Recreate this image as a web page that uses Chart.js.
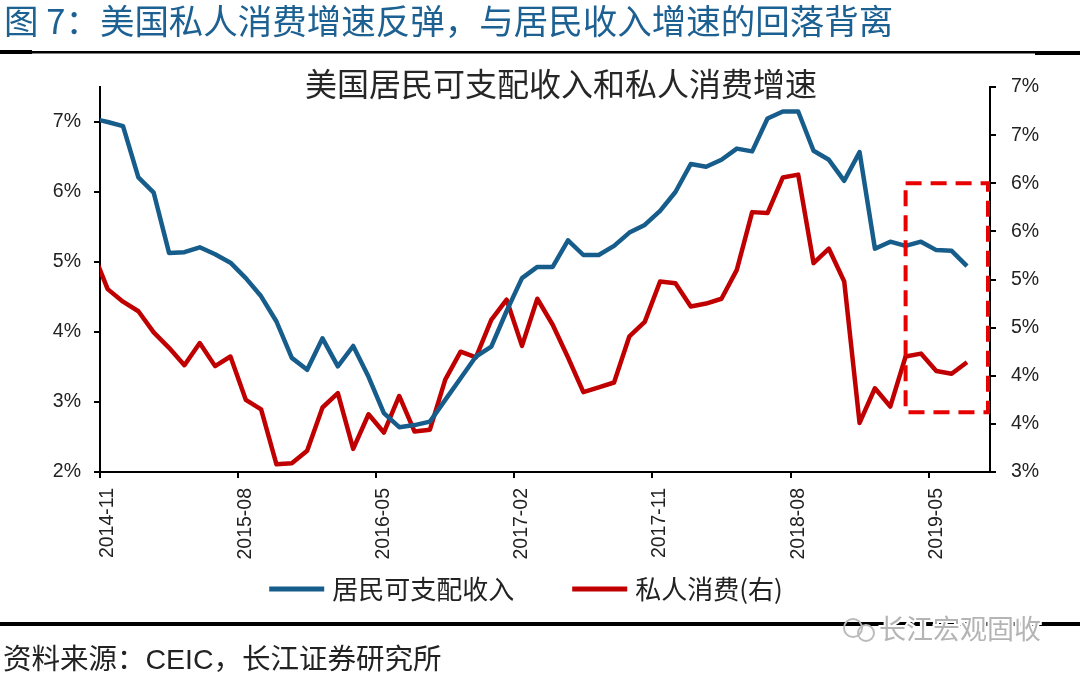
<!DOCTYPE html>
<html>
<head>
<meta charset="utf-8">
<script src="https://cdn.jsdelivr.net/npm/chart.js@4.4.0/dist/chart.umd.min.js"></script>
<style>
  html, body { margin: 0; padding: 0; background: #fff; }
  #wrap { position: relative; width: 1080px; height: 676px; }
</style>
</head>
<body>
<div id="wrap"><canvas id="chart" width="1080" height="676"></canvas></div>
<script>
// texts
var reportTitle = '图 7：美国私人消费增速反弹，与居民收入增速的回落背离';
var chartTitle = '美国居民可支配收入和私人消费增速';
var sourceText = '资料来源：CEIC，长江证券研究所';
var watermark = '长江宏观固收';

// months 2014-10 .. 2019-08; 2014-10 sits just left of the axis and gets clipped
var months = [];
for (var k = 2014 * 12 + 9; k <= 2019 * 12 + 7; k++) {
  var mm = k % 12 + 1;
  months.push(Math.floor(k / 12) + '-' + (mm < 10 ? '0' : '') + mm);
}
var xTickLabels = ['2014-11', '2015-08', '2016-05', '2017-02', '2017-11', '2018-08', '2019-05'];

var seriesNames = ['居民可支配收入', '私人消费(右)'];

// disposable income yoy, % (left axis), 2014-10 .. 2019-07
var income = [
  7.05, 7.00, 6.94, 6.21, 5.99, 5.13, 5.14, 5.21, 5.11, 4.99,
  4.77, 4.51, 4.15, 3.63, 3.46, 3.91, 3.51, 3.80, 3.36, 2.84,
  2.64, 2.67, 2.72, 3.03, 3.34, 3.65, 3.79, 4.30, 4.77, 4.93,
  4.93, 5.31, 5.10, 5.10, 5.23, 5.42, 5.53, 5.73, 6.00, 6.40,
  6.36, 6.46, 6.62, 6.58, 7.05, 7.15, 7.15, 6.59, 6.46, 6.16,
  6.57, 5.19, 5.29, 5.23, 5.29, 5.17, 5.16, 4.94
];

// private consumption yoy, % (right axis), 2014-10 .. 2019-07
var consumption = [
  5.30, 4.90, 4.77, 4.67, 4.45, 4.29, 4.11, 4.34, 4.10, 4.20,
  3.75, 3.65, 3.08, 3.09, 3.22, 3.67, 3.82, 3.24, 3.60, 3.41,
  3.79, 3.42, 3.44, 3.96, 4.25, 4.19, 4.58, 4.79, 4.31, 4.80,
  4.53, 4.19, 3.83, 3.88, 3.93, 4.41, 4.56, 4.98, 4.96, 4.72,
  4.75, 4.80, 5.10, 5.70, 5.69, 6.06, 6.09, 5.17, 5.32, 4.98,
  3.51, 3.87, 3.68, 4.20, 4.23, 4.05, 4.02, 4.14
];

// dashed highlight: from month, right-axis bottom and top
var boxFrom = '2019-03';
var boxRange = [3.62, 6.0];

var blue = '#175d8b';
var red = '#c00000';

var decor = {
  id: 'decor',
  afterDatasetsDraw: function (chart) {
    var ctx = chart.ctx, area = chart.chartArea;
    var x0 = chart.scales.x.getPixelForValue(months.indexOf(boxFrom));
    var yTop = chart.scales.y1.getPixelForValue(boxRange[1]);
    var yBot = chart.scales.y1.getPixelForValue(boxRange[0]);
    ctx.save();
    ctx.strokeStyle = '#e60000';
    ctx.lineWidth = 4;
    ctx.setLineDash([16, 9]);
    ctx.strokeRect(x0, yTop, area.right - 2 - x0, yBot - yTop);
    ctx.restore();
  },
  afterDraw: function (chart) {
    var ctx = chart.ctx;
    ctx.save();
    ctx.textBaseline = 'middle';

    // header
    ctx.fillStyle = '#1d6092';
    ctx.font = '34.5px "Noto Sans CJK SC"';
    ctx.textAlign = 'left';
    ctx.fillText(reportTitle, 4, 21);
    ctx.fillStyle = '#000';
    ctx.fillRect(0, 51, 1080, 2.5);
    ctx.fillRect(0, 50, 32, 4);
    ctx.fillRect(1035, 52, 45, 3);

    // chart title
    ctx.fillStyle = '#262626';
    ctx.font = '32px "Noto Sans CJK SC"';
    ctx.textAlign = 'center';
    ctx.fillText(chartTitle, 561, 84);

    // legend
    ctx.font = '26px "Noto Sans CJK SC"';
    ctx.textAlign = 'left';
    var colors = [blue, red];
    var widths = seriesNames.map(function (s) { return 55 + 8 + ctx.measureText(s).width; });
    var gap = 58;
    var total = widths[0] + widths[1] + gap;
    var lx = 526 - total / 2;
    var ly = 589;
    seriesNames.forEach(function (s, i) {
      ctx.fillStyle = colors[i];
      ctx.fillRect(lx, ly - 2.5, 55, 5);
      ctx.fillStyle = '#222';
      ctx.fillText(s, lx + 63, ly);
      lx += widths[i] + gap;
    });

    // footer
    ctx.fillStyle = '#000';
    ctx.fillRect(0, 622, 1080, 4);
    ctx.font = '28.5px "Liberation Sans", "Noto Sans CJK SC"';
    ctx.fillStyle = '#222';
    ctx.fillText(sourceText, 3, 661);

    // watermark
    ctx.strokeStyle = '#bbb';
    ctx.lineWidth = 2;
    ctx.beginPath(); ctx.arc(853, 628, 9, 0, Math.PI * 2); ctx.stroke();
    ctx.beginPath(); ctx.arc(866, 633, 8, 0, Math.PI * 2); ctx.stroke();
    ctx.font = '27px "Noto Sans CJK SC"';
    ctx.lineWidth = 4;
    ctx.strokeStyle = '#fff';
    ctx.strokeText(watermark, 879, 629);
    ctx.fillStyle = '#b4b4b4';
    ctx.fillText(watermark, 879, 629);
    ctx.restore();
  }
};

var axisFont = { family: '"Liberation Sans", Arial, sans-serif', size: 19.5 };

new Chart(document.getElementById('chart').getContext('2d'), {
  type: 'line',
  data: {
    labels: months,
    datasets: [{
      label: seriesNames[0],
      data: income,
      yAxisID: 'y',
      borderColor: blue,
      backgroundColor: blue,
      borderWidth: 4.5,
      pointRadius: 0,
      tension: 0
    }, {
      label: seriesNames[1],
      data: consumption,
      yAxisID: 'y1',
      borderColor: red,
      backgroundColor: red,
      borderWidth: 4.5,
      pointRadius: 0,
      tension: 0
    }]
  },
  options: {
    responsive: false,
    animation: false,
    layout: { padding: { top: 87, bottom: 109, left: 0, right: 0 } },
    plugins: {
      legend: { display: false },
      tooltip: { enabled: false },
      title: { display: false }
    },
    elements: { line: { borderJoinStyle: 'round' } },
    scales: {
      x: {
        type: 'category',
        min: '2014-11',
        offset: true,
        grid: {
          offset: true,
          drawOnChartArea: false,
          tickLength: 6,
          lineWidth: 2,
          color: function (c) {
            return c.tick && xTickLabels.indexOf(c.tick.label) >= 0 ? '#000' : 'rgba(0,0,0,0)';
          }
        },
        border: { color: '#000', width: 2 },
        ticks: {
          autoSkip: false,
          maxRotation: 90,
          minRotation: 90,
          padding: 10,
          color: '#222',
          font: axisFont,
          callback: function (v) {
            var l = this.getLabelForValue(v);
            return xTickLabels.indexOf(l) >= 0 ? l : '';
          }
        },
        afterFit: function (s) { s.height = 95; }
      },
      y: {
        position: 'left',
        min: 2,
        max: 7.5,
        grid: {
          drawOnChartArea: false,
          tickLength: 6,
          lineWidth: 2,
          color: function (c) {
            return c.tick && c.tick.value % 1 === 0 ? '#000' : 'rgba(0,0,0,0)';
          }
        },
        border: { color: '#000', width: 2 },
        ticks: {
          stepSize: 1,
          padding: 13,
          color: '#222',
          font: axisFont,
          callback: function (v) { return v % 1 === 0 ? v + '%' : ''; }
        },
        afterFit: function (s) { s.width = 100; }
      },
      y1: {
        position: 'right',
        min: 3,
        max: 7,
        grid: { drawOnChartArea: false, tickLength: 6, lineWidth: 2, color: '#000' },
        border: { color: '#000', width: 2 },
        ticks: {
          stepSize: 0.5,
          padding: 15,
          color: '#222',
          font: axisFont,
          callback: function (v) { return Math.round(v) + '%'; }
        },
        afterFit: function (s) { s.width = 90; }
      }
    }
  },
  plugins: [decor]
});
</script>
</body>
</html>
